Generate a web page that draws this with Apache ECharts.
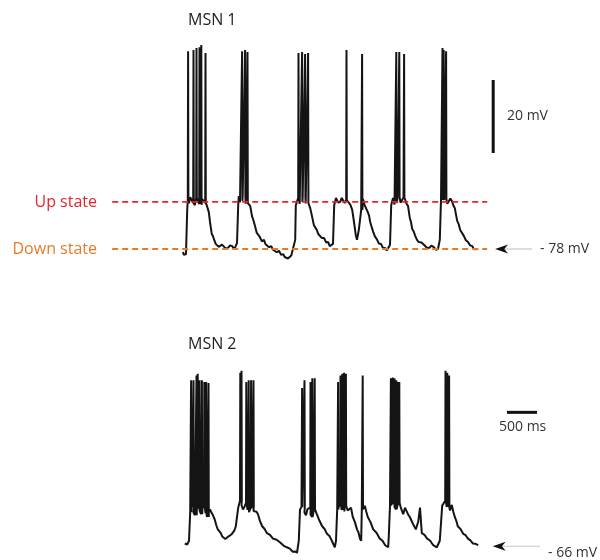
<!DOCTYPE html>
<html><head><meta charset="utf-8">
<script src="https://cdn.jsdelivr.net/npm/echarts@6/dist/echarts.min.js"></script>
<style>html,body{margin:0;padding:0;background:#fff}#c{width:600px;height:560px}</style>
</head><body><div id="c"></div>
<script>
// Time in ms, membrane potential in mV
const msn1Trace = [[50,-78.8],[65,-79.6],[80,-79.9],[100,-79.4],[120,-67.3],[130,-64.6],[150,-65.5],[170,-63.8],[195,-64.2],[220,-65.4],[245,-66.0],[270,-64.0],[295,-63.9],[320,-65.7],[345,-65.9],[370,-64.3],[395,-64.0],[420,-65.4],[435,-65.0],[450,-66.2],[480,-67.9],[490,-68.4],[500,-70.6],[515,-72.3],[530,-73.9],[550,-74.5],[570,-75.5],[595,-76.6],[620,-76.4],[645,-77.4],[670,-77.2],[700,-76.8],[730,-76.6],[765,-77.9],[800,-77.7],[835,-77.0],[870,-77.2],[900,-78.1],[920,-77.5],[950,-76.4],[970,-66.0],[980,-63.5],[1000,-65.2],[1020,-64.8],[1045,-63.4],[1070,-63.8],[1095,-65.6],[1120,-65.4],[1145,-64.9],[1170,-66.2],[1200,-69.0],[1225,-70.2],[1250,-71.7],[1280,-73.6],[1305,-73.9],[1330,-74.7],[1365,-75.9],[1400,-75.5],[1425,-76.7],[1450,-76.4],[1485,-77.5],[1520,-77.2],[1550,-78.2],[1580,-78.0],[1615,-78.9],[1650,-78.5],[1685,-79.6],[1720,-79.4],[1745,-80.2],[1770,-79.9],[1800,-80.6],[1830,-80.5],[1855,-79.8],[1880,-79.6],[1920,-75.5],[1930,-66.0],[1970,-64.0],[1995,-65.6],[2020,-65.1],[2045,-63.6],[2070,-63.8],[2095,-65.5],[2120,-65.4],[2145,-65.9],[2170,-66.8],[2200,-69.0],[2230,-71.4],[2255,-71.6],[2280,-72.8],[2305,-73.9],[2330,-73.9],[2365,-75.0],[2400,-75.0],[2435,-76.2],[2470,-76.1],[2495,-77.2],[2520,-77.5],[2550,-76.6],[2570,-66.0],[2600,-64.0],[2635,-65.3],[2670,-65.1],[2695,-64.0],[2720,-63.8],[2745,-65.4],[2770,-64.6],[2795,-64.2],[2820,-65.4],[2845,-66.1],[2870,-67.3],[2900,-70.6],[2930,-74.2],[2950,-75.5],[2980,-72.8],[3020,-67.3],[3050,-64.3],[3075,-65.9],[3100,-65.4],[3130,-67.9],[3150,-68.8],[3170,-70.6],[3195,-72.0],[3220,-73.3],[3250,-74.6],[3280,-75.3],[3315,-76.5],[3350,-76.6],[3385,-77.8],[3420,-77.7],[3445,-78.4],[3470,-78.8],[3500,-76.9],[3520,-66.0],[3550,-64.0],[3575,-65.8],[3600,-65.4],[3625,-64.1],[3650,-63.8],[3675,-65.3],[3700,-65.1],[3725,-63.9],[3750,-64.3],[3775,-65.6],[3800,-66.2],[3830,-69.5],[3850,-70.6],[3870,-72.5],[3895,-73.2],[3920,-74.4],[3950,-75.5],[3980,-76.1],[4025,-76.2],[4070,-76.9],[4110,-77.6],[4150,-77.7],[4190,-77.1],[4230,-77.5],[4265,-78.2],[4300,-78.0],[4330,-75.5],[4350,-64.6],[4380,-62.9],[4405,-64.6],[4430,-64.3],[4455,-65.6],[4480,-65.4],[4505,-64.2],[4530,-64.8],[4555,-66.0],[4580,-66.8],[4620,-70.3],[4645,-71.2],[4670,-72.8],[4700,-73.3],[4730,-74.4],[4765,-75.6],[4800,-76.1],[4835,-77.0],[4870,-77.2],[4900,-78.1],[4930,-78.3],[4970,-78.0]];
const msn1Spikes = [[130,-23.8],[220,-23.5],[270,-22.9],[320,-22.7],[350,-22.1],[420,-24.3],[1030,-23.8],[1080,-23.5],[1120,-24.0],[1970,-24.3],[2030,-24.0],[2080,-24.6],[2130,-24.3],[2770,-23.5],[3030,-24.6],[3600,-24.0],[3650,-24.0],[3730,-24.6],[4370,-22.9],[4390,-23.5],[4430,-23.8]];
const msn2Trace = [[80,-65.2],[100,-64.8],[120,-65.5],[150,-64.4],[170,-56.1],[185,-55.0],[200,-54.2],[225,-56.2],[250,-57.0],[275,-55.1],[300,-53.4],[325,-55.6],[350,-56.7],[375,-55.0],[400,-54.2],[425,-56.4],[450,-57.5],[475,-56.0],[500,-55.3],[525,-56.3],[550,-57.0],[580,-58.3],[605,-59.9],[630,-61.1],[655,-61.4],[680,-62.2],[705,-63.2],[730,-63.0],[755,-63.9],[780,-63.8],[805,-63.2],[830,-63.5],[855,-62.6],[880,-62.4],[905,-61.5],[930,-60.2],[970,-54.8],[1000,-52.8],[1025,-54.1],[1050,-55.3],[1075,-54.5],[1100,-53.4],[1125,-55.4],[1150,-56.1],[1175,-55.0],[1200,-54.2],[1225,-55.8],[1250,-55.3],[1275,-56.0],[1300,-56.7],[1335,-58.8],[1370,-60.2],[1410,-61.0],[1450,-62.2],[1500,-62.7],[1550,-63.8],[1610,-64.1],[1670,-64.9],[1725,-65.8],[1780,-66.3],[1830,-66.7],[1880,-67.6],[1915,-67.5],[1950,-67.9],[1980,-64.4],[2000,-55.3],[2025,-54.6],[2050,-54.2],[2075,-56.2],[2100,-57.0],[2125,-55.2],[2150,-54.8],[2175,-56.8],[2200,-57.5],[2225,-55.9],[2250,-55.3],[2280,-56.7],[2325,-58.6],[2370,-60.2],[2410,-61.0],[2450,-62.4],[2490,-63.0],[2530,-64.4],[2580,-66.3],[2600,-64.4],[2620,-55.3],[2645,-54.5],[2670,-53.7],[2695,-55.5],[2720,-55.9],[2745,-54.3],[2770,-54.2],[2795,-55.6],[2820,-56.1],[2850,-54.8],[2880,-57.5],[2915,-59.0],[2950,-61.1],[2975,-62.0],[3000,-63.8],[3020,-64.4],[3030,-55.3],[3055,-55.2],[3080,-54.2],[3105,-56.0],[3130,-57.5],[3175,-59.0],[3220,-61.1],[3275,-62.1],[3330,-63.8],[3375,-64.4],[3420,-65.7],[3445,-65.6],[3470,-66.3],[3480,-63.0],[3500,-54.2],[3525,-53.9],[3550,-52.8],[3575,-54.6],[3600,-55.3],[3625,-54.0],[3650,-53.4],[3680,-54.8],[3700,-55.2],[3720,-56.7],[3750,-54.8],[3780,-55.3],[3805,-56.9],[3830,-57.5],[3855,-57.7],[3880,-59.4],[3905,-59.8],[3930,-61.1],[3970,-58.9],[4000,-54.8],[4030,-62.2],[4075,-62.7],[4120,-63.8],[4170,-64.4],[4220,-65.7],[4250,-65.6],[4280,-66.3],[4330,-64.4],[4370,-54.2],[4395,-53.5],[4420,-52.8],[4445,-54.6],[4470,-54.8],[4500,-55.6],[4530,-54.0],[4555,-56.0],[4580,-57.5],[4605,-58.6],[4630,-60.2],[4675,-61.0],[4720,-62.4],[4760,-62.8],[4800,-63.8],[4840,-64.3],[4880,-65.2],[4925,-65.3],[4970,-65.7]];
const msn2Spikes = [[180,-17.8],[220,-17.8],[270,-16.4],[290,-15.9],[320,-17.8],[360,-17.8],[400,-18.3],[430,-18.3],[470,-18.6],[1000,-15.6],[1020,-15.0],[1100,-18.3],[1140,-17.8],[1180,-17.8],[1220,-17.8],[2030,-20.0],[2070,-17.8],[2170,-18.3],[2200,-17.2],[2240,-17.2],[2630,-18.3],[2670,-16.4],[2700,-15.9],[2730,-15.6],[2760,-15.9],[3040,-16.4],[3510,-17.2],[3540,-17.0],[3570,-17.2],[3600,-17.8],[3630,-18.3],[3650,-18.3],[4420,-15.0],[4450,-15.6],[4480,-16.4]];

const upStateMV = -65.1;
const downStateMV = -78;
const stateLineTimes = [-1130, 5120];
const msn1RestMV = -78;
const msn2RestMV = -66;
const arrow1Times = [5360, 5870];
const arrow2Times = [5320, 6000];
const voltBarTime = 5220, voltBarMV = [-51.7, -31.7];
const timeBarMV = -27.1, timeBarTimes = [5450, 5950];

function withSpikes(trace, spikes) {
  const out = [];
  let si = 0;
  for (let i = 0; i < trace.length; i++) {
    const p = trace[i];
    out.push(p);
    const next = i + 1 < trace.length ? trace[i + 1][0] : Infinity;
    while (si < spikes.length && spikes[si][0] < next) {
      const s = spikes[si];
      if (s[0] >= p[0]) {
        out.push([s[0] + 1, p[1]], [s[0] + 5, s[1]], [s[0] + 10, p[1]]);
      }
      si++;
    }
  }
  return out;
}

const arrowPath = 'path://M0,0 L12,-4.5 L8.5,0 L12,4.5 Z';
const FONT = '"Open Sans", "Noto Sans", sans-serif';

const chart = echarts.init(document.getElementById('c'), null, {renderer: 'canvas'});
const hiddenX = (i) => ({type: 'value', gridIndex: i, min: -3000, max: 7000, show: false});
chart.setOption({
  animation: false,
  backgroundColor: '#fff',
  grid: [
    {left: 0, width: 600, top: 37.3, height: 255.5},
    {left: 0, width: 600, top: 346.6, height: 226.3}
  ],
  xAxis: [hiddenX(0), hiddenX(1)],
  yAxis: [
    {type: 'value', gridIndex: 0, min: -90, max: -20, show: false},
    {type: 'value', gridIndex: 1, min: -70, max: -8, show: false}
  ],
  series: [
    {type: 'line', xAxisIndex: 0, yAxisIndex: 0, data: withSpikes(msn1Trace, msn1Spikes), showSymbol: false, clip: false, lineStyle: {color: '#141414', width: 2}, z: 2},
    {type: 'line', xAxisIndex: 0, yAxisIndex: 0, data: [[stateLineTimes[0], upStateMV], [stateLineTimes[1], upStateMV]], showSymbol: false, clip: false, lineStyle: {color: '#e2262c', width: 1.8, type: [6, 4]}, z: 3},
    {type: 'line', xAxisIndex: 0, yAxisIndex: 0, data: [[stateLineTimes[0], downStateMV], [stateLineTimes[1], downStateMV]], showSymbol: false, clip: false, lineStyle: {color: '#e67a26', width: 1.8, type: [6, 4]}, z: 3},
    {type: 'line', xAxisIndex: 0, yAxisIndex: 0, symbol: 'none', showSymbol: true, clip: false,
      data: [{value: [arrow1Times[0], msn1RestMV], symbol: arrowPath, symbolSize: [13, 9], itemStyle: {color: '#111'}}, [arrow1Times[1], msn1RestMV]],
      lineStyle: {color: '#c8c8c8', width: 1.2}, z: 4},
    {type: 'line', xAxisIndex: 0, yAxisIndex: 0, showSymbol: false, clip: false,
      data: [[voltBarTime, voltBarMV[0]], [voltBarTime, voltBarMV[1]]], lineStyle: {color: '#111', width: 3}},
    {type: 'line', xAxisIndex: 1, yAxisIndex: 1, data: withSpikes(msn2Trace, msn2Spikes), showSymbol: false, clip: false, lineStyle: {color: '#141414', width: 2}, z: 2},
    {type: 'line', xAxisIndex: 1, yAxisIndex: 1, symbol: 'none', showSymbol: true, clip: false,
      data: [{value: [arrow2Times[0], msn2RestMV], symbol: arrowPath, symbolSize: [13, 9], itemStyle: {color: '#111'}}, [arrow2Times[1], msn2RestMV]],
      lineStyle: {color: '#c8c8c8', width: 1.2}, z: 4},
    {type: 'line', xAxisIndex: 1, yAxisIndex: 1, showSymbol: false, clip: false,
      data: [[timeBarTimes[0], timeBarMV], [timeBarTimes[1], timeBarMV]], lineStyle: {color: '#111', width: 3}}
  ],
  graphic: [
    {type: 'text', style: {x: 188, y: 20, text: 'MSN 1', font: '16px ' + FONT, fill: '#222', verticalAlign: 'middle'}},
    {type: 'text', style: {x: 97, y: 202, text: 'Up state', font: '16px ' + FONT, fill: '#e2262c', align: 'right', verticalAlign: 'middle'}},
    {type: 'text', style: {x: 97, y: 249, text: 'Down state', font: '16px ' + FONT, fill: '#e67a26', align: 'right', verticalAlign: 'middle'}},
    {type: 'text', style: {x: 507, y: 116, text: '20 mV', font: '14px ' + FONT, fill: '#333', verticalAlign: 'middle'}},
    {type: 'text', style: {x: 540, y: 249, text: '- 78 mV', font: '14px ' + FONT, fill: '#333', verticalAlign: 'middle'}},
    {type: 'text', style: {x: 188, y: 344, text: 'MSN 2', font: '16px ' + FONT, fill: '#222', verticalAlign: 'middle'}},
    {type: 'text', style: {x: 499, y: 427, text: '500 ms', font: '14px ' + FONT, fill: '#333', verticalAlign: 'middle'}},
    {type: 'text', style: {x: 548, y: 553, text: '- 66 mV', font: '14px ' + FONT, fill: '#333', verticalAlign: 'middle'}}
  ]
});
</script></body></html>
